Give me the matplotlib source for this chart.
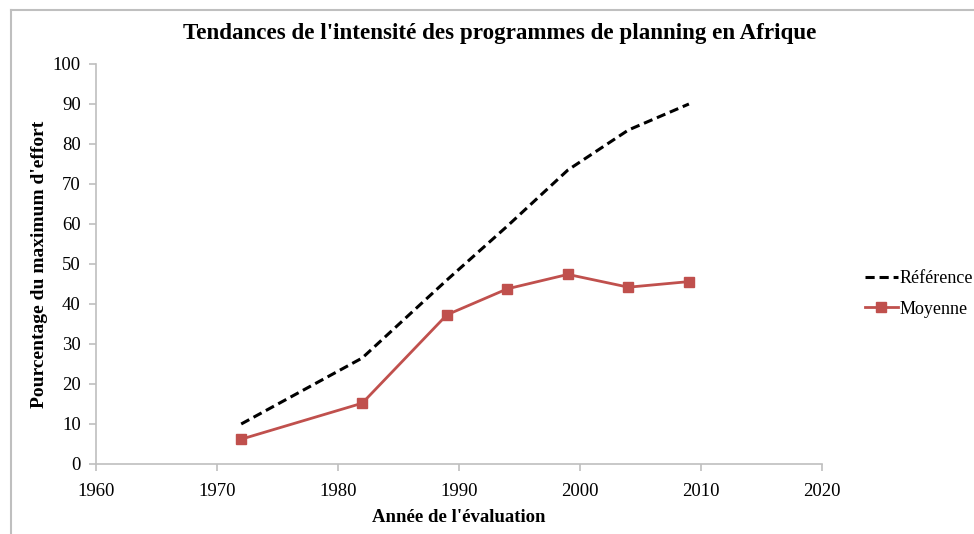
import matplotlib
matplotlib.use("Agg")
import matplotlib.pyplot as plt
from matplotlib.lines import Line2D

years = [1972, 1982, 1989, 1994, 1999, 2004, 2009]
reference = [10, 26.5, 46, 59.5, 73.5, 83.5, 90]
moyenne = [6.2, 15.2, 37.3, 43.8, 47.4, 44.2, 45.6]
xticks = [1960, 1970, 1980, 1990, 2000, 2010, 2020]
yticks = [0, 10, 20, 30, 40, 50, 60, 70, 80, 90, 100]

plt.rcParams['font.family'] = ['Liberation Serif', 'DejaVu Serif']

fig = plt.figure(figsize=(9.74, 5.34), dpi=100)
ax = fig.add_axes([96/974, 1 - 464/534, (822-96)/974, (464-64)/534])

ax.plot(years, reference, color='black', linestyle=(0, (3, 1.6)), linewidth=2.2, label='Référence')
ax.plot(years, moyenne, color='#C0504D', linewidth=2, marker='s', markersize=7, label='Moyenne')

ax.set_xlim(1960, 2020)
ax.set_ylim(0, 100)
ax.set_xticks(xticks)
ax.set_yticks(yticks)
for s in ['top', 'right']:
    ax.spines[s].set_visible(False)
for s in ['left', 'bottom']:
    ax.spines[s].set_color('#BFBFBF')
    ax.spines[s].set_linewidth(1.2)
ax.tick_params(axis='both', colors='#BFBFBF', labelcolor='black', labelsize=13.5, length=5, width=1.2, direction='out')
ax.tick_params(axis='x', pad=9)
ax.tick_params(axis='y', pad=6)

fig.text(500/974, 1 - 33/534, "Tendances de l'intensité des programmes de planning en Afrique",
         fontsize=16.6, fontweight='bold', ha='center', va='center')
ax.set_xlabel("Année de l'évaluation", fontsize=13.5, fontweight='bold', labelpad=6)
ax.set_ylabel("Pourcentage du maximum d'effort", fontsize=14, fontweight='bold', labelpad=3)

leg = fig.legend(loc='center left', bbox_to_anchor=(858/974, 1 - 294/534), frameon=False,
                 fontsize=13, handlelength=1.8, handletextpad=0.1, labelspacing=0.75, borderaxespad=0)

# outer border
fig.add_artist(Line2D([11/974, 1], [1 - 10/534, 1 - 10/534], transform=fig.transFigure, color='#BFBFBF', linewidth=1.5))
fig.add_artist(Line2D([11/974, 11/974], [0, 1 - 10/534], transform=fig.transFigure, color='#BFBFBF', linewidth=1.5))

fig.savefig('out.png', dpi=100)
